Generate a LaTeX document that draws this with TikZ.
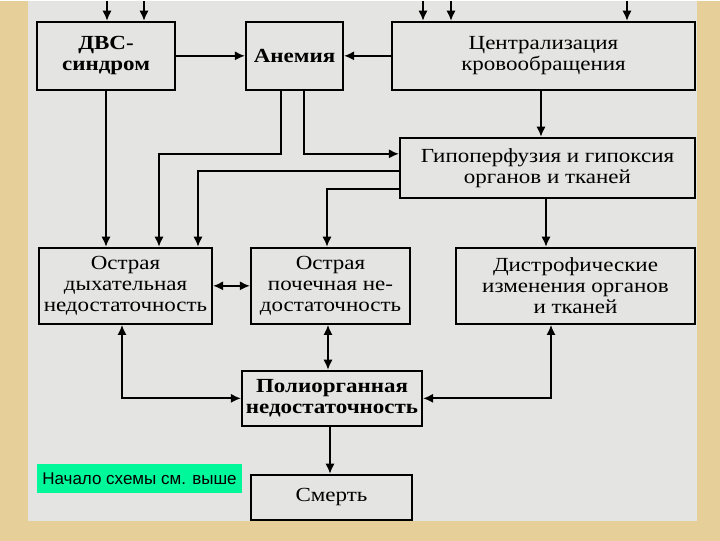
\documentclass[tikz,border=0pt]{standalone}
\usepackage{fontspec}
\setmainfont[FakeStretch=1.15]{Liberation Serif}
\newfontfamily\notefont{Liberation Sans}
\usetikzlibrary{arrows.meta,positioning}
\definecolor{parchment}{HTML}{E6CF98}
\definecolor{panel}{HTML}{E4E4E2}
\definecolor{note}{HTML}{00F79A}

\tikzset{
  block/.style={draw, line width=1.1pt, fill=panel, inner sep=0pt, align=center,
    font=\fontsize{10}{10.5}\selectfont},
  arr/.style={line width=0.85pt, -{Latex[length=5pt,width=4.6pt]}},
  arrs/.style={line width=0.85pt, {Latex[length=5pt,width=4.6pt]}-{Latex[length=5pt,width=4.6pt]}},
}

\begin{document}
\begin{tikzpicture}[x=0.5pt,y=-0.5pt]
  \fill[parchment] (0,0) rectangle (720,540);
  \fill[panel] (28,0) rectangle (697,520);

  % top row
  \node[block, minimum width=69pt, minimum height=34pt, font=\fontsize{10}{10.5}\selectfont\bfseries] (dvs) at (106,55) {ДВС-\\синдром};
  \node[block, minimum width=48.5pt, minimum height=34pt, font=\fontsize{10}{10.5}\selectfont\bfseries] (anem) at (294.5,55) {Анемия};
  \node[block, minimum width=151.5pt, minimum height=34pt] (centr) at (543.5,55) {Централизация\\кровообращения};
  \node[block, minimum width=147.5pt, minimum height=30pt] (hypo) at (547.5,167) {Гипоперфузия и гипоксия\\органов и тканей};

  % middle row
  \node[block, minimum width=86.5pt, minimum height=38pt] (odn) at (125.5,285) {Острая\\дыхательная\\недостаточность};
  \node[block, minimum width=79.5pt, minimum height=38pt] (opn) at (330.5,285) {Острая\\почечная не-\\достаточность};
  \node[block, minimum width=119.5pt, minimum height=38pt] (dystr) at (575.5,285) {Дистрофические\\изменения органов\\и тканей};

  % bottom
  \node[block, minimum width=90pt, minimum height=27.5pt, font=\fontsize{10}{10.5}\selectfont\bfseries] (pon) at (332,397.5) {Полиорганная\\недостаточность};
  \node[block, minimum width=80.5pt, minimum height=22.5pt] (death) at (331.5,496.5) {Смерть};
  \node[fill=note, inner sep=0pt, minimum width=102.5pt, minimum height=14.5pt, font=\notefont\fontsize{8.5}{9}\selectfont] (start) at (139.5,477.5) {Начало схемы см. выше};

  % incoming from above
  \coordinate (t1) at (107,0);
  \coordinate (t2) at (144,0);
  \coordinate (t3) at (423,0);
  \coordinate (t4) at (451,0);
  \coordinate (t5) at (627,0);
  \foreach \t in {t1,t2} \draw[arr] (\t) -- (\t |- dvs.north);
  \foreach \t in {t3,t4,t5} \draw[arr] (\t) -- (\t |- centr.north);

  \draw[arr] (dvs.east) -- (anem.west);
  \draw[arr] (centr.west) -- (anem.east);
  \draw[arr] ([xshift=-1.25pt]centr.south) -- ([xshift=-1.25pt]centr.south |- hypo.north);

  \draw[arr] (dvs.south) -- (dvs.south |- odn.north);
  \draw[arr] ([xshift=-6.75pt]anem.south) |- (220,153) -| ([xshift=16.75pt]odn.north);
  \draw[arr] ([xshift=4.75pt]anem.south) |- ([yshift=7pt]hypo.west);
  \draw[arr] ([yshift=-1.5pt]hypo.west) -| ([xshift=36.25pt]odn.north);
  \draw[arr] ([yshift=-10.5pt]hypo.west) -| ([xshift=-1.75pt]opn.north);
  \draw[arr] ([xshift=-0.75pt]hypo.south) -- ([xshift=-0.75pt]hypo.south |- dystr.north);

  \draw[arrs] (odn.east) -- (opn.west);
  \draw[arrs] ([xshift=-1.75pt]odn.south) |- (pon.west);
  \draw[arrs] ([xshift=-1.25pt]opn.south) -- ([xshift=-1.25pt]opn.south |- pon.north);
  \draw[arrs] ([xshift=-12.25pt]dystr.south) |- (pon.east);
  \draw[arr] ([xshift=-1pt]pon.south) -- ([xshift=-1pt]pon.south |- death.north);
\end{tikzpicture}
\end{document}
